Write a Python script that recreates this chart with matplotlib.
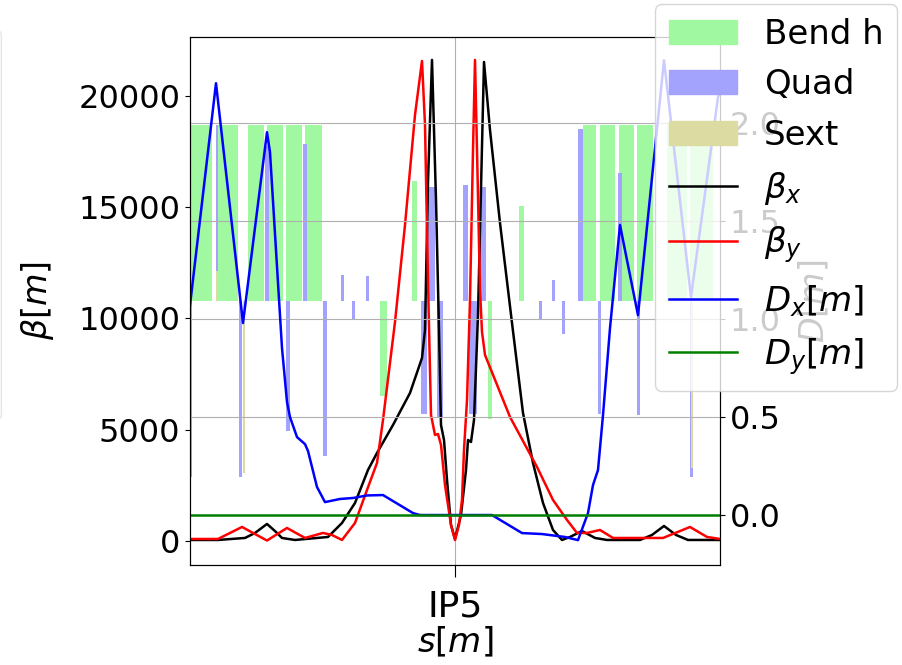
import matplotlib
matplotlib.use("Agg")
import matplotlib.pyplot as plt
from matplotlib.patches import Patch, FancyBboxPatch
from matplotlib.lines import Line2D

plt.rcParams['font.size'] = 23

# ---- data (s in m relative to IP5) ----
bx_s = [-530, -474, -420, -400, -376, -358, -346, -320, -254, -226, -200, -174, -156, -124, -90, -66, -60, -54,
        -46, -38, -32, -28, -22, -16, -8, 0, 12, 22, 26, 32, 38, 46, 58, 70, 90, 114, 136, 156, 176, 196, 214,
        230, 254, 280, 304, 370, 394, 418, 442, 466, 530]
bx_v = [45, 45, 135, 360, 764, 404, 135, 45, 180, 809, 1708, 3191, 3955, 5213, 6652, 8225, 9483, 16135,
        21620, 15326, 9483, 5213, 4539, 2742, 719, 90, 1169, 3191, 4539, 4449, 5438, 10157, 21528, 18472, 14292,
        9798, 5753, 3506, 1708, 494, 45, 180, 449, 135, 45, 45, 270, 674, 270, 45, 45]

by_s = [-530, -474, -426, -376, -336, -300, -264, -246, -226, -200, -176, -156, -144, -120, -100, -80, -66,
        -60, -54, -48, -40, -34, -28, -20, -14, -8, 0, 8, 14, 18, 24, 30, 36, 40, 44, 50, 54, 60, 110, 164,
        196, 224, 244, 264, 290, 316, 416, 470, 504, 530]
by_v = [90, 90, 629, 20, 584, 135, 360, 270, 45, 809, 2292, 3506, 5438, 9843, 14202, 19146, 21573,
        18697, 11640, 5663, 4764, 4809, 4315, 2517, 1618, 719, 45, 719, 1843, 4090, 6337, 10831, 17573, 21618,
        17573, 11281, 9393, 8360, 5573, 3326, 1843, 944, 360, 360, 494, 135, 135, 629, 180, 90]

dx_s = [-530, -478, -424, -376, -370, -346, -336, -330, -316, -300, -294, -276, -260, -230, -204, -176, -144,
        -84, -70, 0, 74, 134, 174, 220, 246, 266, 276, 286, 296, 310, 330, 366, 400, 418, 472, 526, 530]
dx_v = [1.071, 2.204, 0.980, 1.954, 1.852, 0.852, 0.577, 0.500, 0.398, 0.362, 0.327, 0.143, 0.066, 0.082,
        0.087, 0.100, 0.102, 0.010, 0.0, 0.0, 0.0, -0.092, -0.097, -0.112, -0.128, 0.010, 0.153, 0.230, 0.510,
        0.954, 1.480, 1.020, 1.872, 2.321, 1.112, 2.133, 2.160]

dy_s = [-530, 530]
dy_v = [0.0, 0.0]

bend_s = [-510, -455, -398, -360, -322, -283, -143, -81, 70, 133, 269, 305, 343, 380, 444, 493]
bend_l = [48, 42, 32, 32, 32, 34, 14, 10, 9, 10, 26, 30, 30, 32, 40, 46]
bend_h = [1, 1, 1, 1, 1, 1, -0.54, 0.68, -0.67, 0.54, 1, 1, 1, 1, 1, 1]

quad_s = [-528, -476, -428, -376, -334, -299, -259, -224, -203, -175, -62, -47, -30, 21, 37, 56,
          171, 198, 218, 251, 289, 330, 367, 474]
quad_l = [4, 4, 6, 8, 8, 8, 8, 6, 6, 6, 12, 14, 12, 10, 16, 12, 6, 6, 6, 10, 6, 8, 6, 6]
quad_h = [-1.0, 1.0, -1.0, 0.88, -0.74, 0.89, -0.88, 0.15, -0.10, 0.14, -0.64, 0.65, -0.66, 0.66, -0.64,
          0.65, -0.11, 0.12, -0.19, 0.98, -0.64, 0.73, -0.65, -1.0]

sext_s = [-529, -476, -422, 474]
sext_l = [3, 3, 4, 4]
sext_h = [-0.28, 0.17, -0.98, -0.95]

xticks = [0]
xticklabels = ['IP5']

c_bend = '#a0f8a0'
c_quad = '#a3a3fd'
c_sext = '#dcdca2'
LW = 1.8

fig = plt.figure(figsize=(9.03, 6.65), dpi=100)
rect = [190 / 903, 100 / 665, 530 / 903, 528 / 665]

# faint frame partly visible at the left edge
fig.patches.append(FancyBboxPatch((-0.2, (665 - 420) / 665), 0.2015, 390 / 665,
                                  boxstyle='round,pad=0,rounding_size=0.008',
                                  transform=fig.transFigure, facecolor='none',
                                  edgecolor='#e6e6e6', lw=1.0))

ax_el = fig.add_axes(rect)
ax_el.bar(bend_s, bend_h, width=bend_l, color=c_bend, linewidth=0)
ax_el.bar(quad_s, quad_h, width=quad_l, color=c_quad, linewidth=0)
ax_el.bar(sext_s, sext_h, width=sext_l, color=c_sext, linewidth=0)
ax_el.set_ylim(-1.5, 1.5)
ax_el.set_xlim(-530, 530)
ax_el.set_axis_off()

ax = fig.add_axes(rect, sharex=ax_el)
ax.patch.set_visible(False)
ax.plot(bx_s, bx_v, color='black', lw=LW)
ax.plot(by_s, by_v, color='red', lw=LW)
ax.set_ylim(-1080, 22650)
ax.set_xlim(-530, 530)
ax.set_xticks(xticks)
ax.set_xticklabels(xticklabels, fontsize=26)
ax.tick_params(axis='x', length=8.5, pad=9)
ax.grid(True, axis='x')
ax.set_ylabel(r'$\beta[m]$', fontsize=24, labelpad=16)
ax.set_xlabel(r'$s[m]$', fontsize=24.5)
ax.xaxis.set_label_coords(0.5, -0.146)
ax.xaxis.label.set_va('center')

ax2 = ax.twinx()
ax2.plot(dx_s, dx_v, color='blue', lw=LW)
ax2.plot(dy_s, dy_v, color='green', lw=LW)
ax2.set_ylim(-0.255, 2.44)
ax2.set_yticks([0.0, 0.5, 1.0, 1.5, 2.0])
ax2.set_ylabel(r'$D[m]$', fontsize=24, labelpad=12)
ax2.grid(True)

handles = [Patch(color=c_bend), Patch(color=c_quad), Patch(color=c_sext),
           Line2D([], [], color='black', lw=LW), Line2D([], [], color='red', lw=LW),
           Line2D([], [], color='blue', lw=LW), Line2D([], [], color='green', lw=LW)]
labels = ['Bend h', 'Quad', 'Sext', r'$\beta_x$', r'$\beta_y$', r'$D_x[m]$', r'$D_y[m]$']
fig.legend(handles, labels, loc='upper left', bbox_to_anchor=(655 / 903, 661 / 665),
           borderaxespad=0.0, fontsize=24.5, labelspacing=0.52)

fig.savefig('out.png', dpi=100)
